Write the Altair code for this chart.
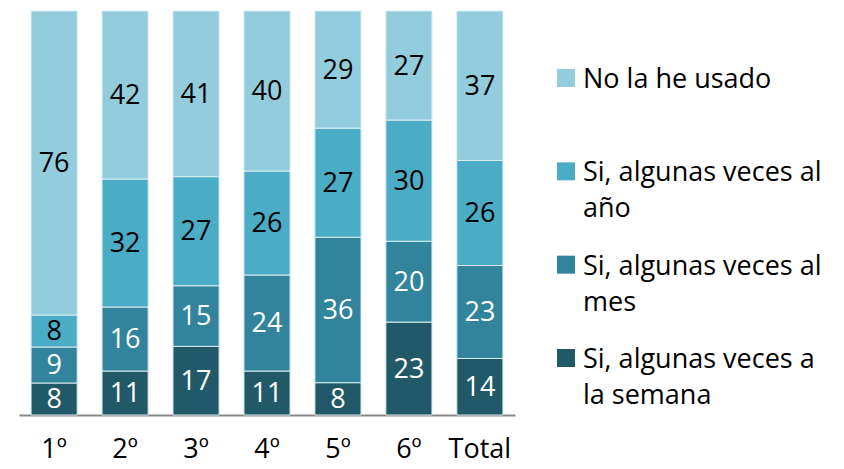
import altair as alt
import pandas as pd

categories = ["1º", "2º", "3º", "4º", "5º", "6º", "Total"]
series = ["Si, algunas veces a la semana", "Si, algunas veces al mes",
          "Si, algunas veces al año", "No la he usado"]
semana = [8, 11, 17, 11, 8, 23, 14]
mes = [9, 16, 15, 24, 36, 20, 23]
anio = [8, 32, 27, 26, 27, 30, 26]
no_usado = [76, 42, 41, 40, 29, 27, 37]
colors = ["#215968", "#31849B", "#4BACC6", "#93CDDD"]
label_colors = ["white", "white", "black", "black"]
legend_labels = ["No la he usado", "Si, algunas veces al\naño",
                 "Si, algunas veces al\nmes", "Si, algunas veces a\nla semana"]
legend_series = ["No la he usado", "Si, algunas veces al año",
                 "Si, algunas veces al mes", "Si, algunas veces a la semana"]

rows = []
for i, c in enumerate(categories):
    for j, (s, vals) in enumerate(zip(series, [semana, mes, anio, no_usado])):
        rows.append({"cat": c, "serie": s, "val": vals[i], "order": j,
                     "lc": label_colors[j]})
df = pd.DataFrame(rows)

FONT = "Open Sans"
FS = 27

color_scale = alt.Scale(domain=series, range=colors)

base = alt.Chart(df).transform_stack(
    stack="val", groupby=["cat"], as_=["y0", "y1"], offset="normalize",
    sort=[alt.SortField("order", order="ascending")]
).transform_calculate(mid="(datum.y0 + datum.y1) / 2")

xenc = alt.X("cat:N", sort=categories, title=None,
             scale=alt.Scale(paddingInner=0.35, paddingOuter=0.17),
             axis=alt.Axis(labelAngle=0, ticks=False, domainColor="#878787",
                           domainWidth=2, labelFont=FONT, labelFontSize=FS,
                           labelColor="black", labelPadding=21))

bars = base.mark_bar(stroke="#d8ecf2", strokeWidth=1).encode(
    x=xenc,
    y=alt.Y("y0:Q", axis=None, scale=alt.Scale(domain=[0, 1])),
    y2="y1:Q",
    color=alt.Color("serie:N", scale=color_scale, legend=None),
)

labels = base.mark_text(font=FONT, fontSize=FS, baseline="middle", dy=1).encode(
    x=alt.X("cat:N", sort=categories),
    y=alt.Y("mid:Q"),
    text="val:Q",
    color=alt.Color("lc:N", scale=None),
)

main = alt.layer(bars, labels).properties(width=496, height=404)

leg_df = pd.DataFrame({"serie": legend_series, "label": legend_labels,
                       "col": [colors[3], colors[2], colors[1], colors[0]]})
leg_y = alt.Y("serie:N", sort=legend_series, axis=None,
              scale=alt.Scale(type="point", range=[67, 347], padding=0))
leg_sq = alt.Chart(leg_df).mark_square(size=324, opacity=1).encode(
    x=alt.value(51), y=leg_y, color=alt.Color("col:N", scale=None))
leg_tx = alt.Chart(leg_df).mark_text(
    font=FONT, fontSize=FS, align="left", baseline="alphabetic", dy=10,
    lineBreak="\n", lineHeight=36, color="black").encode(
    x=alt.value(68), y=leg_y, text="label:N")
legend = alt.layer(leg_sq, leg_tx).properties(width=300, height=404)

chart = alt.hconcat(main, legend, spacing=0).resolve_scale(
    color="independent", y="independent").properties(
    padding={"left": 11, "top": 2, "right": 0, "bottom": 2}
).configure_view(stroke=None).configure_axis(grid=False)

chart.save("out.html", embed_options={"renderer": "svg", "actions": False})
